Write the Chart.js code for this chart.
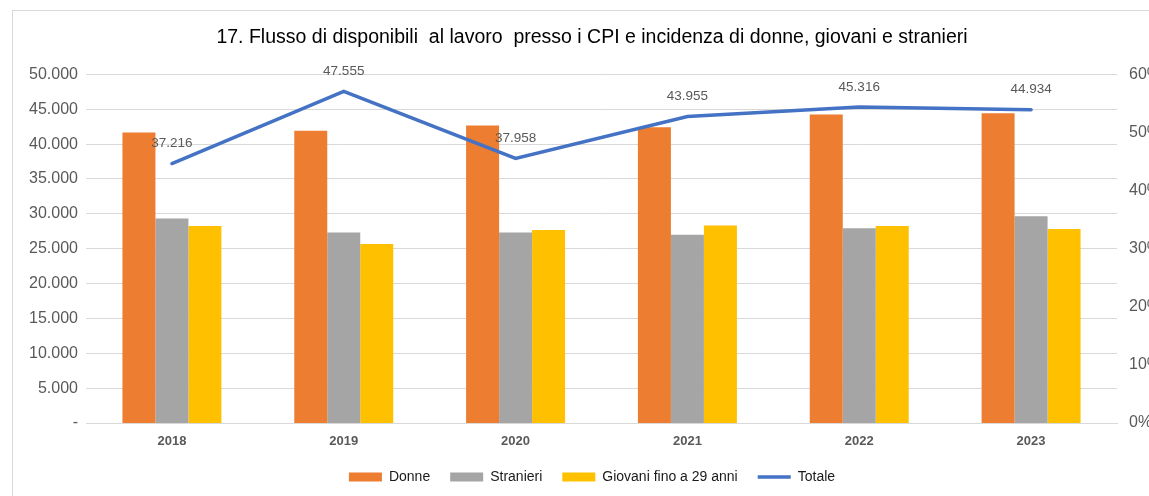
<!DOCTYPE html>
<html>
<head>
<meta charset="utf-8">
<script src="https://cdn.jsdelivr.net/npm/chart.js@4/dist/chart.umd.min.js"></script>
<style>
  html, body { margin: 0; padding: 0; background: #fff; overflow: hidden; }
  #wrap { position: absolute; left: 12px; top: 10px; width: 1158px; height: 490px; border: 1px solid #d9d9d9; background: #fff; }
  #chartFlusso { display: block; }
</style>
</head>
<body>
<div id="wrap"><canvas id="chartFlusso" width="1158" height="486"></canvas></div>
<script>
// data
var anni = ['2018', '2019', '2020', '2021', '2022', '2023'];
var totale = [37216, 47555, 37958, 43955, 45316, 44934];
var donnePct = [50.0, 50.3, 51.2, 50.9, 53.1, 53.3];
var stranieriPct = [35.2, 32.8, 32.8, 32.4, 33.5, 35.6];
var giovaniPct = [33.9, 30.8, 33.2, 34.0, 33.9, 33.4];
var leftTicks = [0, 5000, 10000, 15000, 20000, 25000, 30000, 35000, 40000, 45000, 50000];
var rightTicks = [0, 10, 20, 30, 40, 50, 60];

function fmtMigliaia(v) {
    if (v === 0) return '-';
    return String(v).replace(/\B(?=(\d{3})+(?!\d))/g, '.');
}

Chart.defaults.font.family = "'Liberation Sans', Arial, sans-serif";

// labels over the Totale line
var lineLabels = {
    id: 'lineLabels',
    afterDatasetsDraw: function(chart) {
        var ctx = chart.ctx;
        chart.data.datasets.forEach(function(ds, i) {
            if (ds.type !== 'line') return;
            var meta = chart.getDatasetMeta(i);
            ctx.save();
            ctx.font = "13.5px 'Liberation Sans', Arial, sans-serif";
            ctx.fillStyle = '#595959';
            ctx.textAlign = 'center';
            ctx.textBaseline = 'middle';
            meta.data.forEach(function(pt, j) {
                ctx.fillText(fmtMigliaia(ds.data[j]), pt.x, pt.y - 20);
            });
            ctx.restore();
        });
    }
};

var chartData = {
    labels: anni,
    datasets: [{
        label: 'Donne',
        data: donnePct,
        yAxisID: 'y1',
        backgroundColor: '#ED7D31',
        borderWidth: 0,
        pointStyle: 'rect',
        order: 1
        },{
        label: 'Stranieri',
        data: stranieriPct,
        yAxisID: 'y1',
        backgroundColor: '#A5A5A5',
        borderWidth: 0,
        pointStyle: 'rect',
        order: 1
        },{
        label: 'Giovani fino a 29 anni',
        data: giovaniPct,
        yAxisID: 'y1',
        backgroundColor: '#FFC000',
        borderWidth: 0,
        pointStyle: 'rect',
        order: 1
        },{
        label: 'Totale',
        type: 'line',
        data: totale,
        yAxisID: 'y',
        borderColor: '#4472C4',
        backgroundColor: '#4472C4',
        borderWidth: 3.5,
        borderCapStyle: 'round',
        pointRadius: 0,
        pointStyle: 'line',
        tension: 0,
        order: 0
        }
    ]
};

var ctx = document.getElementById('chartFlusso');
var myChartFlusso = new Chart(ctx, {
    type: 'bar',
    data: chartData,
    plugins: [lineLabels],
    options: {
        responsive: false,
        animation: false,
        layout: { padding: { left: 0, right: 0, top: 0, bottom: 3 } },
        datasets: {
            bar: { barPercentage: 1, categoryPercentage: 0.576 }
        },
        plugins: {
            title: {
                display: true,
                text: '17. Flusso di disponibili  al lavoro  presso i CPI e incidenza di donne, giovani e stranieri',
                color: '#000',
                font: { size: 19.5, weight: 'normal' },
                padding: { top: 15, bottom: 25 }
            },
            legend: {
                position: 'bottom',
                labels: {
                    usePointStyle: true,
                    pointStyleWidth: 33,
                    boxHeight: 9,
                    padding: 20,
                    color: '#1a1a1a',
                    font: { size: 14 },
                    sort: function(a, b) { return a.datasetIndex - b.datasetIndex; }
                }
            },
            tooltip: { enabled: false }
        },
        scales: {
            x: {
                grid: { display: false, drawTicks: false, tickLength: 0 },
                border: { display: true, color: '#d9d9d9', width: 1 },
                ticks: { color: '#595959', font: { size: 13, weight: 'bold' }, padding: 11 },
                afterFit: function(s) { s.height = 27; }
            },
            y: {
                position: 'left',
                min: 0,
                max: 50000,
                afterBuildTicks: function(s) { s.ticks = leftTicks.map(function(v) { return { value: v }; }); },
                grid: { color: '#d9d9d9', drawTicks: false },
                border: { display: false },
                ticks: {
                    color: '#595959',
                    font: { size: 16 },
                    padding: 8,
                    callback: function(v) { return fmtMigliaia(v); }
                },
                afterFit: function(s) { s.width = 73; }
            },
            y1: {
                position: 'right',
                min: 0,
                max: 60,
                afterBuildTicks: function(s) { s.ticks = rightTicks.map(function(v) { return { value: v }; }); },
                grid: { display: false, drawTicks: false },
                border: { display: false },
                ticks: {
                    color: '#595959',
                    font: { size: 16 },
                    padding: 12,
                    callback: function(v) { return v + '%'; }
                },
                afterFit: function(s) { s.width = 54; }
            }
        }
    }
});
</script>
</body>
</html>
